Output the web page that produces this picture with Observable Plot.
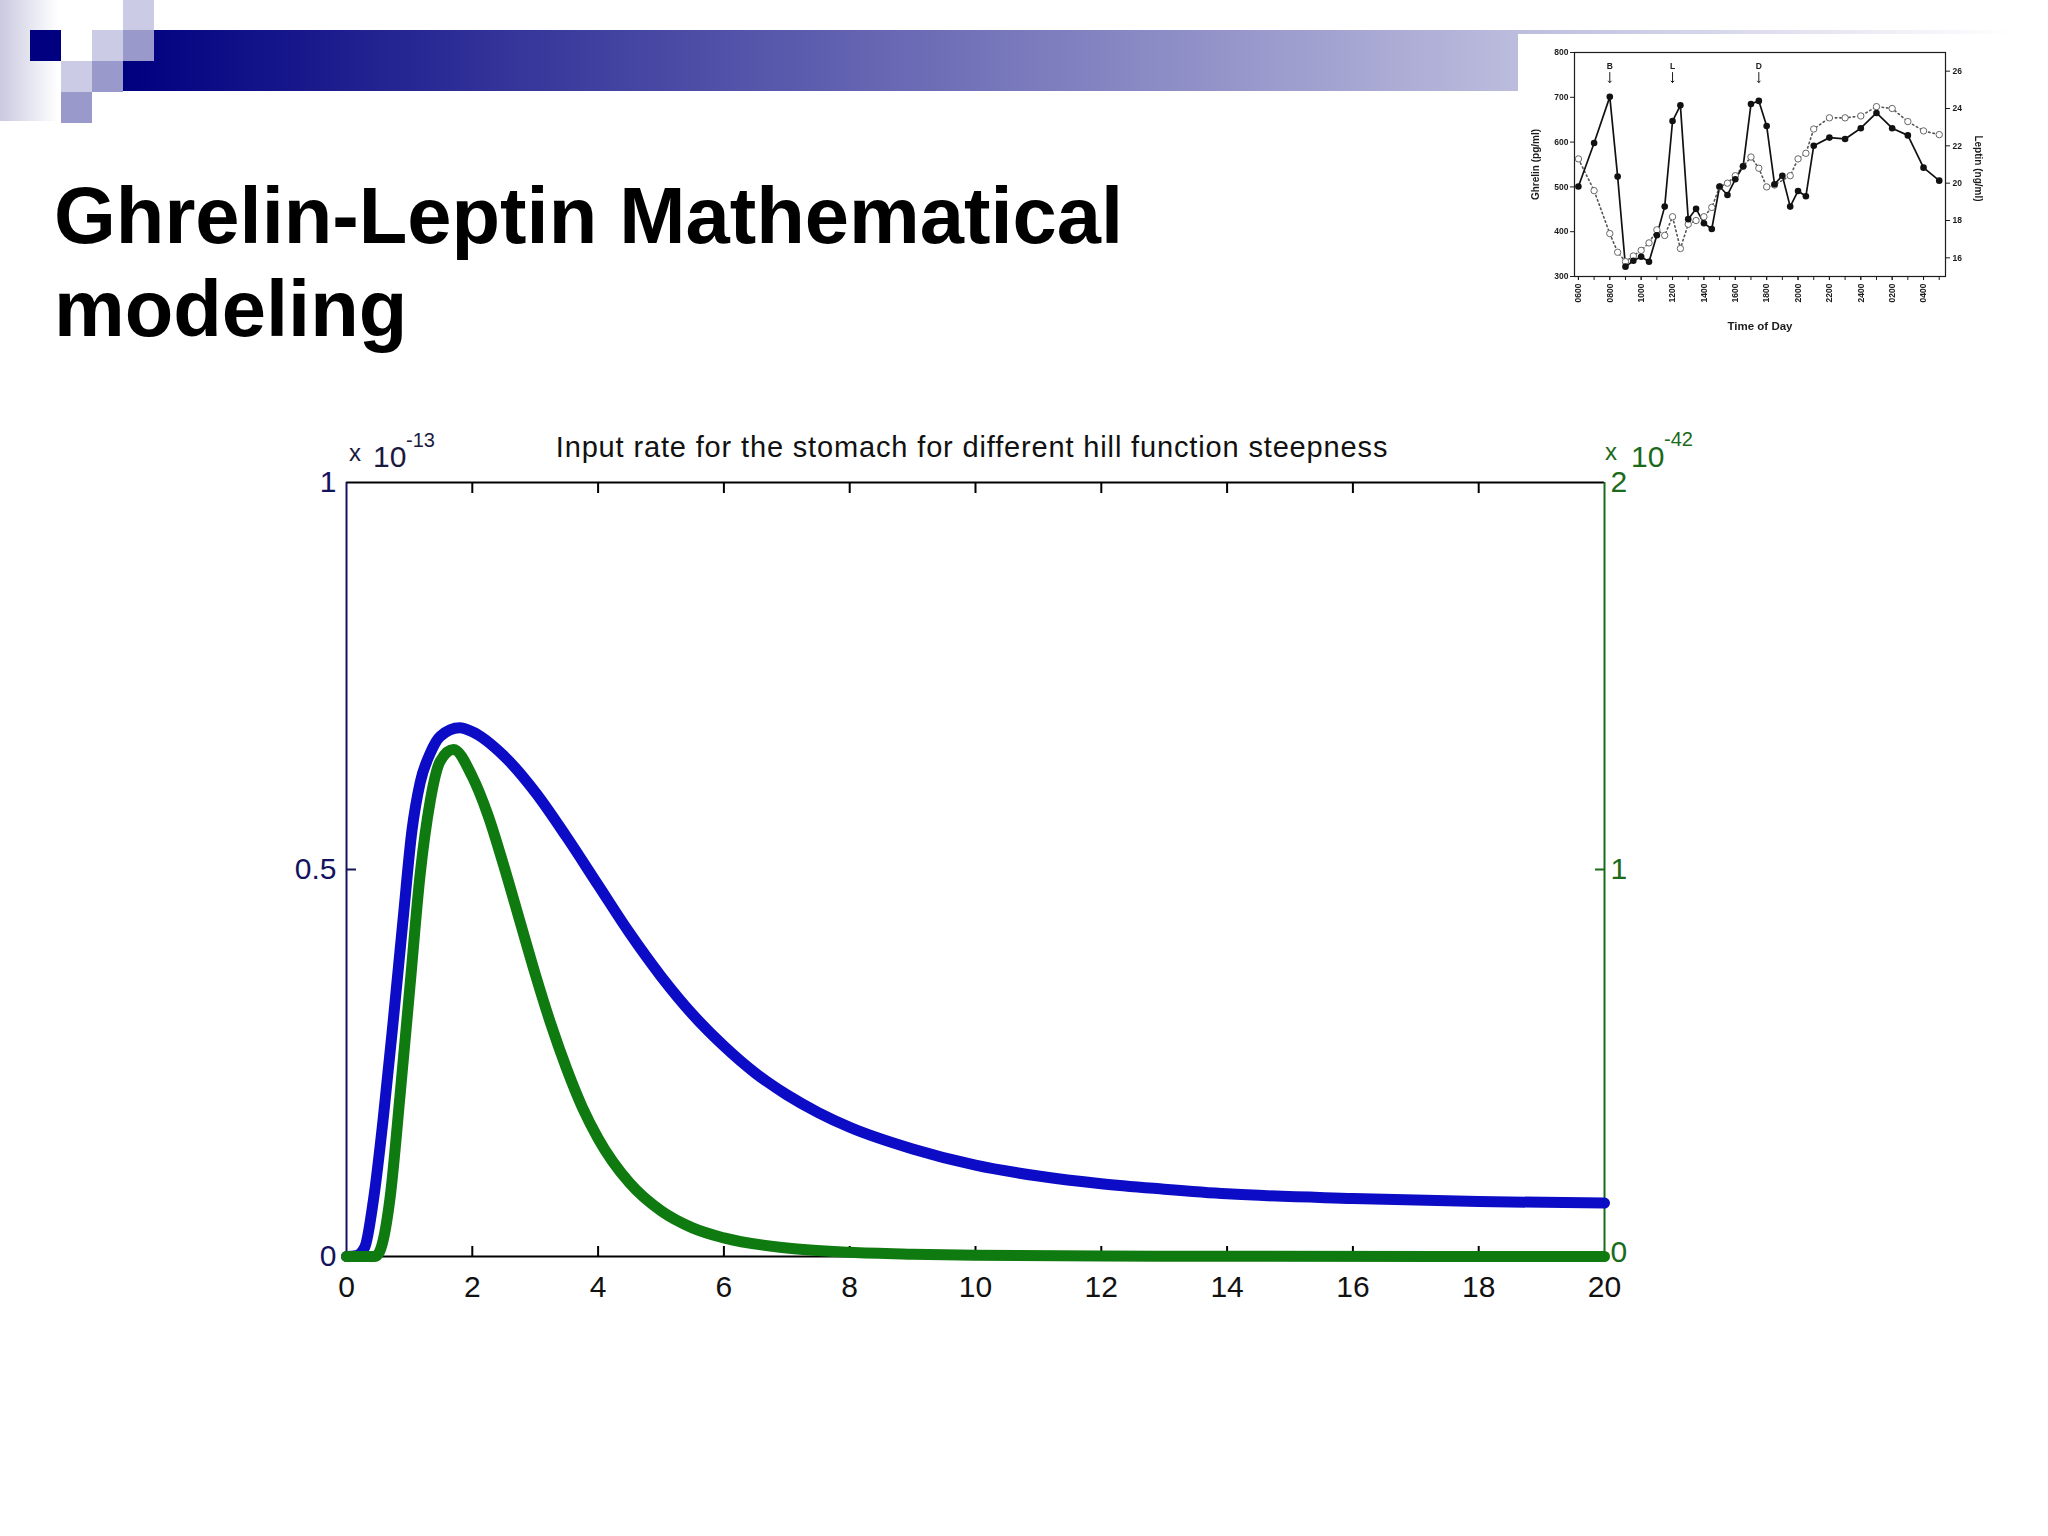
<!DOCTYPE html>
<html><head><meta charset="utf-8">
<script src="https://cdn.jsdelivr.net/npm/d3@7"></script>
<script src="https://cdn.jsdelivr.net/npm/@observablehq/plot@0.6"></script>
<style>
html,body{margin:0;padding:0;background:#fff}
body{width:2048px;height:1536px;position:relative;overflow:hidden;font-family:"Liberation Sans",Arial,sans-serif}
.abs{position:absolute}
.sq{position:absolute;width:31px;height:31px}
.t{position:absolute;white-space:nowrap;line-height:1}
</style></head><body>
<div class="abs" style="left:0;top:0;width:58px;height:121px;background:linear-gradient(to right,#c9c9e0,#ffffff)"></div>
<div class="abs" style="left:123px;top:30px;width:1890px;height:61px;background:linear-gradient(to right,#000080,#ffffff)"></div>
<div class="sq" style="left:123px;top:0;background:#cbcbe6"></div>
<div class="sq" style="left:30px;top:30px;background:#000080"></div>
<div class="sq" style="left:92px;top:30px;background:#cbcbe6"></div>
<div class="sq" style="left:123px;top:30px;background:#9999cc"></div>
<div class="sq" style="left:61px;top:61px;background:#cbcbe6"></div>
<div class="sq" style="left:92px;top:61px;background:#9999cc"></div>
<div class="sq" style="left:61px;top:92px;background:#9999cc"></div>

<div class="abs" style="left:54px;top:169px;font-weight:bold;font-size:79.5px;line-height:93px;color:#000">Ghrelin-Leptin Mathematical<br>modeling</div>

<div id="inset" class="abs" style="left:1518px;top:34px;width:492px;height:322px;background:#fff"></div>
<div id="main" class="abs" style="left:0;top:400px"></div>

<div class="t" style="left:972px;top:433px;font-size:29px;letter-spacing:0.85px;transform:translateX(-50%);color:#111">Input rate for the stomach for different hill function steepness</div>
<div class="t" style="left:349px;top:441px;font-size:24px;color:#1a1a40">x</div>
<div class="t" style="left:373px;top:442px;font-size:30px;color:#1a1a40">10</div>
<div class="t" style="left:406px;top:430px;font-size:20px;color:#1a1a40">-13</div>
<div class="t" style="left:1605px;top:440px;font-size:24px;color:#1a6a1a">x</div>
<div class="t" style="left:1631px;top:442px;font-size:30px;color:#1a6a1a">10</div>
<div class="t" style="left:1664px;top:429px;font-size:20px;color:#1a6a1a">-42</div>

<script>
// ---- main chart data ----
const timeBlue = [0, 0.15, 0.29, 0.43, 0.59, 0.74, 0.9, 1.04, 1.17, 1.33, 1.49, 1.8, 2.0, 2.5, 3.0, 3.5, 4.0, 4.5, 5.0, 5.5, 6.0, 6.5, 7.0, 7.5, 8.0, 9.0, 10.0, 11.0, 12.0, 13.0, 14.0, 16.0, 18.0, 20.0];
const rateBlue = [0, 0.001, 0.012, 0.074, 0.183, 0.302, 0.436, 0.55, 0.612, 0.65, 0.672, 0.683, 0.678, 0.647, 0.6, 0.542, 0.48, 0.418, 0.362, 0.313, 0.272, 0.237, 0.209, 0.186, 0.167, 0.139, 0.118, 0.104, 0.094, 0.087, 0.081, 0.075, 0.071, 0.069];
const timeGreen = [0, 0.45, 0.53, 0.69, 0.85, 1.01, 1.17, 1.33, 1.49, 1.7, 2.0, 2.25, 2.5, 2.75, 3.0, 3.25, 3.5, 3.75, 4.0, 4.5, 5.0, 5.5, 6.0, 7.0, 8.0, 9.0, 10.0, 12.0, 14.0, 20.0];
const rateGreen = [0, 0, 0.014, 0.148, 0.414, 0.70, 0.986, 1.176, 1.28, 1.31, 1.24, 1.14, 1.01, 0.87, 0.73, 0.60, 0.485, 0.385, 0.305, 0.19, 0.118, 0.074, 0.048, 0.022, 0.011, 0.006, 0.003, 0.001, 0.0005, 0];
const xTicks = [0, 2, 4, 6, 8, 10, 12, 14, 16, 18, 20];
const leftTicks = [0, 0.5, 1];
const rightTicks = [0, 1, 2];

// ---- inset data (time in hours after 06:00) ----
const ghrelinTime = [0,1,2,2.5,3,3.5,4,4.5,5,5.5,6,6.5,7,7.5,8,8.5,9,9.5,10,10.5,11,11.5,12,12.5,13,13.5,14,14.5,15,16,17,18,19,20,21,22,23];
const ghrelin = [501,598,701,523,322,335,344,333,392,456,647,682,428,451,419,406,501,482,517,546,685,692,636,506,525,456,491,479,592,610,607,631,665,631,615,543,514];
const leptinTime = [0,1,2,2.5,3,3.5,4,4.5,5,5.5,6,6.5,7,7.5,8,8.5,9,9.5,10,10.5,11,11.5,12,12.5,13.5,14,14.5,15,16,17,18,19,20,21,22,23];
const leptin = [21.3,19.6,17.3,16.3,15.8,16.1,16.4,16.8,17.5,17.2,18.2,16.5,17.8,18.0,18.2,18.7,19.8,20.0,20.4,20.9,21.4,20.8,19.8,19.9,20.4,21.3,21.6,22.9,23.5,23.5,23.6,24.1,24.0,23.3,22.8,22.6];
const hourTicks = d3.range(0, 24);
const labelHours = [0,2,4,6,8,10,12,14,16,18,20,22];
const timeLabels = ["0600","0800","1000","1200","1400","1600","1800","2000","2200","2400","0200","0400"];
const ghrelinTicks = [300,400,500,600,700,800];
const leptinTicks = [16,18,20,22,24,26];
const mealTimes = [2, 6, 11.5];
const mealLabels = ["B", "L", "D"];

// ---- main chart ----
const blue = timeBlue.map((t, i) => ({t, v: rateBlue[i]}));
const green = timeGreen.map((t, i) => ({t, v: rateGreen[i]}));
const RIGHT_MAX = 2, LEFT_MAX = 1;
const toLeft = v => v * LEFT_MAX / RIGHT_MAX;
const inner = xTicks.filter(d => d > 0 && d < 20);
const navy = "#14145e", dgreen = "#1a6b1a";
const rightFmt = d => String(d * RIGHT_MAX / LEFT_MAX);

const main = Plot.plot({
  width: 1700, height: 960,
  marginLeft: 346, marginRight: 96, marginTop: 82, marginBottom: 104,
  x: {domain: [0, 20]},
  y: {domain: [0, LEFT_MAX]},
  style: {fontFamily: "Liberation Sans, Arial, sans-serif", background: "transparent", overflow: "visible"},
  marks: [
    Plot.ruleY([LEFT_MAX], {stroke: "#000", strokeWidth: 2}),
    Plot.ruleY([0], {stroke: "#000", strokeWidth: 2}),
    Plot.ruleX([0], {stroke: navy, strokeWidth: 2}),
    Plot.ruleX([20], {stroke: dgreen, strokeWidth: 2}),
    Plot.axisX(inner, {anchor: "bottom", tickSize: 10, dy: -10, tickFormat: () => "", label: null, color: "#000", strokeWidth: 2}),
    Plot.axisX(inner, {anchor: "top", tickSize: 10, dy: 10, tickFormat: () => "", label: null, color: "#000", strokeWidth: 2}),
    Plot.axisY([0.5], {anchor: "left", tickSize: 10, dx: 10, tickFormat: () => "", label: null, color: navy, strokeWidth: 2}),
    Plot.axisY([0.5], {anchor: "right", tickSize: 10, dx: -10, tickFormat: () => "", label: null, color: dgreen, strokeWidth: 2}),
    Plot.axisX(xTicks, {anchor: "bottom", tickSize: 0, tickPadding: 19, tickFormat: d => String(d), label: null, color: "#111", fontSize: 30}),
    Plot.axisY(leftTicks, {anchor: "left", tickSize: 0, tickPadding: 10, tickFormat: d => String(d), label: null, color: navy, fontSize: 30}),
    Plot.axisY(rightTicks.filter(d => d > 0).map(toLeft), {anchor: "right", tickSize: 0, tickPadding: 6, tickFormat: rightFmt, label: null, color: dgreen, fontSize: 30}),
    Plot.axisY(rightTicks.filter(d => d === 0).map(toLeft), {anchor: "right", tickSize: 0, tickPadding: 6, dy: -4, tickFormat: rightFmt, label: null, color: dgreen, fontSize: 30}),
    Plot.line(blue, {x: "t", y: "v", stroke: "#0c0cc6", strokeWidth: 11, curve: "monotone-x"}),
    Plot.line(green, {x: "t", y: d => toLeft(d.v), stroke: "#0f7a0f", strokeWidth: 11, curve: "monotone-x"})
  ]
});
document.getElementById("main").appendChild(main);

// ---- inset chart ----
const G0 = 300, G1 = 800, L0 = 15, L1 = 27;
const lepToG = l => G0 + (l - L0) * (G1 - G0) / (L1 - L0);
const gToLep = g => L0 + (g - G0) * (L1 - L0) / (G1 - G0);
const gData = ghrelinTime.map((t, i) => ({t, g: ghrelin[i]}));
const lData = leptinTime.map((t, i) => ({t, l: leptin[i]}));
const ink = "#1c1c1c";

const inset = Plot.plot({
  width: 492, height: 322,
  marginLeft: 56, marginRight: 65, marginTop: 18, marginBottom: 80,
  x: {domain: [-0.25, 23.4]},
  y: {domain: [G0, G1]},
  style: {fontFamily: "Liberation Sans, Arial, sans-serif", background: "transparent", overflow: "visible"},
  marks: [
    Plot.frame({stroke: ink, strokeWidth: 1.2}),
    Plot.axisX(hourTicks, {anchor: "bottom", tickSize: 4, tickFormat: () => "", label: null, color: ink}),
    Plot.axisX(labelHours, {anchor: "bottom", tickSize: 4, tickPadding: 3, tickRotate: -90, tickFormat: d => timeLabels[labelHours.indexOf(d)], label: null, color: ink, fontSize: 8.5, fontWeight: "bold"}),
    Plot.axisY(ghrelinTicks, {anchor: "left", tickSize: 4, tickPadding: 2, tickFormat: d => String(d), label: null, color: ink, fontSize: 8.5, fontWeight: "bold"}),
    Plot.axisY(leptinTicks.map(lepToG), {anchor: "right", tickSize: 4, tickPadding: 3, tickFormat: d => String(Math.round(gToLep(d))), label: null, color: ink, fontSize: 8.5, fontWeight: "bold"}),
    Plot.line(lData, {x: "t", y: d => lepToG(d.l), stroke: "#555", strokeWidth: 1.6, strokeDasharray: "1.5,3"}),
    Plot.line(gData, {x: "t", y: "g", stroke: "#111", strokeWidth: 1.7}),
    Plot.dot(lData, {x: "t", y: d => lepToG(d.l), r: 3.2, fill: "#fff", stroke: "#666", strokeWidth: 1}),
    Plot.dot(gData, {x: "t", y: "g", r: 3.3, fill: "#111"}),
    Plot.text(mealTimes, {x: d => d, frameAnchor: "top", lineAnchor: "middle", dy: 14, text: (d, i) => mealLabels[i], fontSize: 8.5, fontWeight: "bold", fill: ink}),
    Plot.vector(mealTimes, {x: d => d, frameAnchor: "top", dy: 25, length: 10, rotate: 180, stroke: ink, r: 2.5, strokeWidth: 1}),
    Plot.text(["Ghrelin (pg/ml)"], {frameAnchor: "left", textAnchor: "middle", lineAnchor: "middle", dx: -39, rotate: -90, fontSize: 10, fontWeight: "bold", fill: ink}),
    Plot.text(["Leptin (ng/ml)"], {frameAnchor: "right", textAnchor: "middle", lineAnchor: "middle", dx: 33, dy: 4, rotate: 90, fontSize: 10, fontWeight: "bold", fill: ink}),
    Plot.text(["Time of Day"], {frameAnchor: "bottom", textAnchor: "middle", lineAnchor: "middle", dy: 50, fontSize: 11.5, fontWeight: "bold", fill: ink})
  ]
});
inset.style.filter = "blur(0.4px)";
document.getElementById("inset").appendChild(inset);
</script>
</body></html>
